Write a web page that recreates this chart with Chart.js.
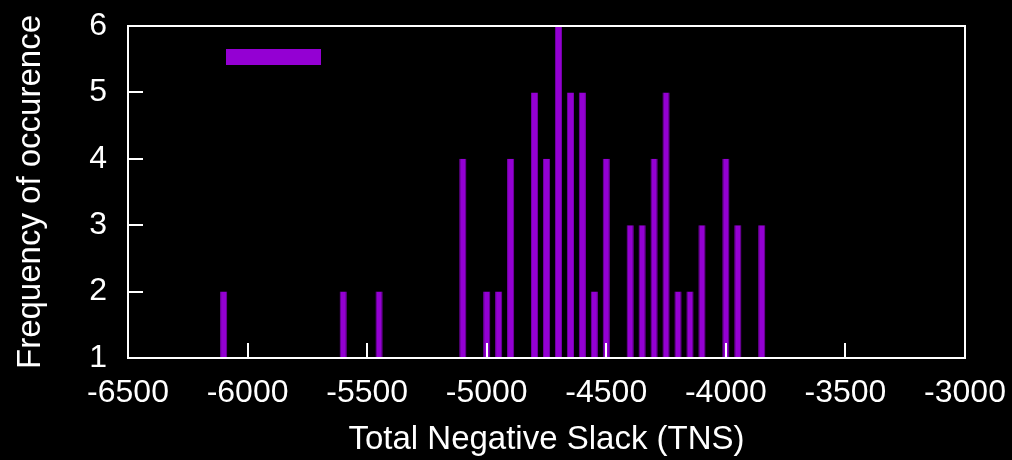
<!DOCTYPE html>
<html>
<head>
<meta charset="utf-8">
<title>TNS histogram</title>
<script src="https://cdn.jsdelivr.net/npm/chart.js@4/dist/chart.umd.min.js"></script>
<style>
  html, body { margin: 0; padding: 0; background: #000; }
  canvas { display: block; }
</style>
</head>
<body>
<canvas id="chart" width="1012" height="460"></canvas>
<script>
// Histogram of total negative slack values and how often each occurred
const tnsValues   = [-6100, -5600, -5450, -5100, -5000, -4950, -4900, -4800, -4750, -4700, -4650, -4600,
                     -4550, -4500, -4400, -4350, -4300, -4250, -4200, -4150, -4100, -4000, -3950, -3850];
const frequencies = [2, 2, 2, 4, 2, 2, 4, 5, 4, 6, 5, 5,
                     2, 4, 3, 3, 4, 5, 2, 2, 3, 4, 3, 3];
const xTickValues = [-6500, -6000, -5500, -5000, -4500, -4000, -3500, -3000];
const yTickValues = [1, 2, 3, 4, 5, 6];

const barColor = '#9400d3';
const fontFamily = '"Liberation Sans", Arial, Helvetica, sans-serif';
const tickFontSize = 32;
const titleFontSize = 33;

// Frame, inward tick marks and the key sample, gnuplot style
const framePlugin = {
  id: 'frame',
  afterDatasetsDraw(chart) {
    const { ctx, chartArea: a, scales } = chart;
    const tick = 15;
    ctx.save();
    ctx.strokeStyle = '#fff';
    ctx.lineWidth = 2;
    ctx.beginPath();
    xTickValues.forEach(v => {
      const x = Math.round(scales.x.getPixelForValue(v));
      ctx.moveTo(x, a.bottom);
      ctx.lineTo(x, a.bottom - tick);
    });
    yTickValues.forEach(v => {
      const y = Math.round(scales.y.getPixelForValue(v));
      ctx.moveTo(a.left, y);
      ctx.lineTo(a.left + tick, y);
    });
    ctx.stroke();
    ctx.strokeRect(a.left, a.top, a.right - a.left, a.bottom - a.top);

    // key sample (the series has an empty title)
    ctx.fillStyle = chart.data.datasets[0].backgroundColor;
    ctx.fillRect(a.left + 98, a.top + 23, 95, 16);
    ctx.restore();
  }
};

new Chart(document.getElementById('chart'), {
  type: 'bar',
  data: {
    datasets: [{
      label: '',
      data: tnsValues.map((x, i) => ({ x: x, y: frequencies[i] })),
      backgroundColor: barColor,
      borderColor: '#7a00ae',
      borderWidth: { left: 1, right: 1, top: 0, bottom: 0 },
      base: 1,
      barPercentage: 0.6,
      categoryPercentage: 1.0
    }]
  },
  options: {
    responsive: false,
    animation: false,
    devicePixelRatio: 1,
    layout: { padding: { top: 26, right: 47, left: 0, bottom: 0 } },
    plugins: {
      legend: { display: false },
      tooltip: { enabled: false }
    },
    scales: {
      x: {
        type: 'linear',
        min: -6500,
        max: -3000,
        offset: false,
        grid: { display: false, drawTicks: false },
        border: { display: false },
        afterBuildTicks: s => { s.ticks = xTickValues.map(v => ({ value: v })); },
        ticks: {
          color: '#fff',
          padding: 16,
          maxRotation: 0,
          autoSkip: false,
          font: { family: fontFamily, size: tickFontSize },
          callback: v => String(v)
        },
        title: {
          display: true,
          text: 'Total Negative Slack (TNS)',
          color: '#fff',
          padding: { top: 0, bottom: 0 },
          font: { family: fontFamily, size: titleFontSize }
        },
        afterFit: s => { s.height = 102; s.paddingLeft = 0; s.paddingRight = 0; }
      },
      y: {
        min: 1,
        max: 6,
        grid: { display: false, drawTicks: false },
        border: { display: false },
        afterBuildTicks: s => { s.ticks = yTickValues.map(v => ({ value: v })); },
        ticks: {
          color: '#fff',
          padding: 21,
          autoSkip: false,
          font: { family: fontFamily, size: tickFontSize },
          callback: v => String(v)
        },
        title: {
          display: true,
          text: 'Frequency of occurence',
          color: '#fff',
          padding: { top: 11, bottom: 0 },
          font: { family: fontFamily, size: titleFontSize }
        },
        afterFit: s => { s.width = 128; s.paddingTop = 0; s.paddingBottom = 0; }
      }
    }
  },
  plugins: [framePlugin]
});
</script>
</body>
</html>
